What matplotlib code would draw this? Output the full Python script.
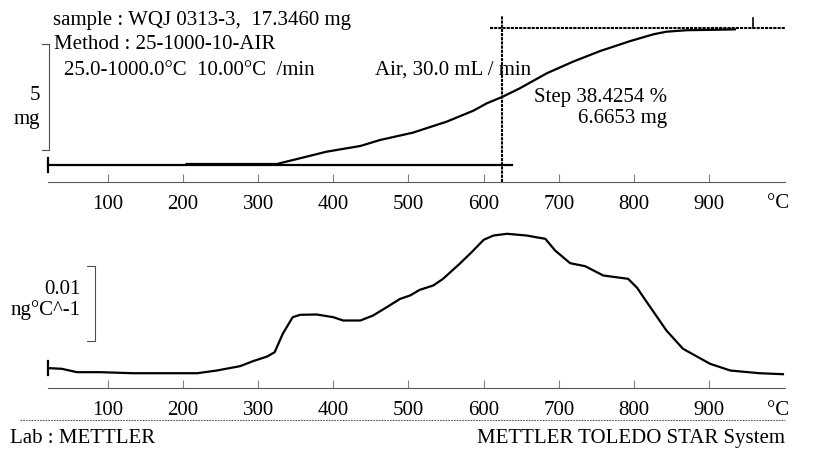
import matplotlib
matplotlib.use("Agg")
import matplotlib.pyplot as plt

plt.rcParams['font.family'] = ['Liberation Serif', 'DejaVu Serif']
FS = 15
W, H = 815, 450

# TGA step curve, mass loss in mg
tga_temp = [205, 325, 391, 436, 462, 506, 551, 586, 604, 625, 648, 684,
            719, 755, 795, 826, 843, 870, 905, 934]
tga_loss = [0.0, 0.0, 0.58, 0.85, 1.13, 1.48, 2.00, 2.51, 2.86, 3.17, 3.57, 4.28,
            4.83, 5.33, 5.80, 6.12, 6.24, 6.31, 6.33, 6.35]

# step evaluation
base_level = -0.07
base_end = 638
final_level = 6.40
final_start = 608
onset_temp = 625
end_mark = 958
scale_mg = 5

# DTG curve, mg/°C above the axis line
dtg_temp = [23, 39, 59, 90, 134, 179, 219, 245, 276, 293, 312, 322, 333, 346,
            356, 378, 400, 413, 436, 453, 471, 489, 502, 515, 533, 546, 568,
            584, 600, 613, 631, 657, 682, 695, 715, 735, 759, 792, 804, 817,
            843, 865, 901, 928, 967, 998]
dtg_val = [0.00264, 0.00256, 0.00211, 0.00211, 0.00197, 0.00197, 0.00197,
           0.00233, 0.00291, 0.00357, 0.00420, 0.00477, 0.00727, 0.00944,
           0.00976, 0.00980, 0.00944, 0.00900, 0.00900, 0.00967, 0.01077,
           0.01189, 0.01233, 0.01309, 0.01367, 0.01456, 0.01656, 0.01811,
           0.01976, 0.02033, 0.02056, 0.02033, 0.01989, 0.01833, 0.01664,
           0.01624, 0.01500, 0.01456, 0.01336, 0.01144, 0.00767, 0.00523,
           0.00323, 0.00233, 0.00197, 0.00184]
scale_dtg = 0.01

xticks = [100, 200, 300, 400, 500, 600, 700, 800, 900]
xlim = (20.6, 1000.7)


def fx(x):
  return x / W


def fy(y):
  return 1 - y / H


def setup_axis(ax, dotted):
  ax.set_xlim(*xlim)
  for s in ['top', 'left', 'right']:
    ax.spines[s].set_visible(False)
  sp = ax.spines['bottom']
  sp.set_color('0.35')
  sp.set_linewidth(0.8)
  if dotted:
    sp.set_linestyle((0, (1.5, 1)))
  ax.set_yticks([])
  ax.set_xticks(xticks)
  ax.set_xticklabels([str(t) for t in xticks])
  ax.tick_params(axis='x', direction='in', length=6, width=0.8, color='0.5',
                 labelsize=FS, pad=9.4)
  ax.patch.set_visible(False)


fig = plt.figure(figsize=(W / 100, H / 100), dpi=100)

# ---- top panel: TGA
ax1 = fig.add_axes([fx(48), fy(181.7), fx(737), (181.7 - 10) / H])
setup_axis(ax1, False)
ax1.set_ylim(-0.835, 7.264)
ax1.plot([xlim[0] + 0.5, base_end], [base_level, base_level], color='black', lw=1.6, clip_on=False)
ax1.plot([xlim[0] + 0.5, xlim[0] + 0.5], [base_level - 0.33, base_level + 0.33], color='black', lw=1.6, clip_on=False)
ax1.plot([final_start, xlim[1]], [final_level, final_level], color='black', lw=1.5,
         linestyle=(0, (1.5, 0.5)), clip_on=False)
ax1.plot([end_mark, end_mark], [final_level, final_level + 0.5], color='black', lw=1.2, clip_on=False)
ax1.plot([onset_temp, onset_temp], [-0.835, 7.0], color='black', lw=1.5,
         linestyle=(0, (1.5, 0.5)), clip_on=False)
ax1.plot(tga_temp, tga_loss, color='black', lw=1.6, clip_on=False)
# 5 mg scale bar
sb_x, sb_y = xlim[0] + 1.3, 0.66
ax1.plot([sb_x - 9, sb_x, sb_x, sb_x - 9], [sb_y, sb_y, sb_y + scale_mg, sb_y + scale_mg],
         color='0.3', lw=0.8, clip_on=False)

# ---- bottom panel: DTG
ax2 = fig.add_axes([fx(48), fy(388), fx(737), (388 - 220) / H])
setup_axis(ax2, True)
ax2.set_ylim(0, 0.0224)
ax2.plot(dtg_temp, dtg_val, color='black', lw=1.6, clip_on=False)
ax2.plot([xlim[0] + 0.5, xlim[0] + 0.5], [dtg_val[0] - 0.0009, dtg_val[0] + 0.0009], color='black', lw=1.6, clip_on=False)
sb2_x, sb2_y = 83.1, 0.00633
ax2.plot([sb2_x - 10, sb2_x, sb2_x, sb2_x - 10], [sb2_y, sb2_y, sb2_y + scale_dtg, sb2_y + scale_dtg],
         color='0.3', lw=0.8, clip_on=False)

# degree labels at the end of both axes
fig.text(fx(778), fy(208), '°C', fontsize=FS, ha='center', va='baseline')
fig.text(fx(778), fy(415), '°C', fontsize=FS, ha='center', va='baseline')

# header texts
fig.text(fx(53), fy(25), 'sample : WQJ 0313-3,  17.3460 mg', fontsize=FS, va='baseline')
fig.text(fx(54), fy(49), 'Method : 25-1000-10-AIR', fontsize=FS, va='baseline')
fig.text(fx(64), fy(75), '25.0-1000.0°C  10.00°C  /min', fontsize=FS, va='baseline')
fig.text(fx(375), fy(75), 'Air, 30.0 mL / min', fontsize=FS, va='baseline')
fig.text(fx(40), fy(100), '5', fontsize=FS, ha='right', va='baseline')
fig.text(fx(40), fy(124), 'mg', fontsize=FS, ha='right', va='baseline')
fig.text(fx(667), fy(102), 'Step 38.4254 %', fontsize=FS, ha='right', va='baseline')
fig.text(fx(667), fy(123), '6.6653 mg', fontsize=FS, ha='right', va='baseline')
fig.text(fx(81), fy(294), '0.01', fontsize=FS, ha='right', va='baseline')
fig.text(fx(81), fy(315), 'ng°C^-1', fontsize=FS, ha='right', va='baseline')

# footer
fig.add_artist(plt.Line2D([fx(20), fx(785)], [fy(420), fy(420)], color='0.35', lw=0.8,
                          linestyle=(0, (1.5, 1))))
fig.text(fx(10), fy(443), 'Lab : METTLER', fontsize=FS, va='baseline')
fig.text(fx(785), fy(443), 'METTLER TOLEDO STAR System', fontsize=FS, ha='right', va='baseline')

fig.savefig('out.png', dpi=100)
